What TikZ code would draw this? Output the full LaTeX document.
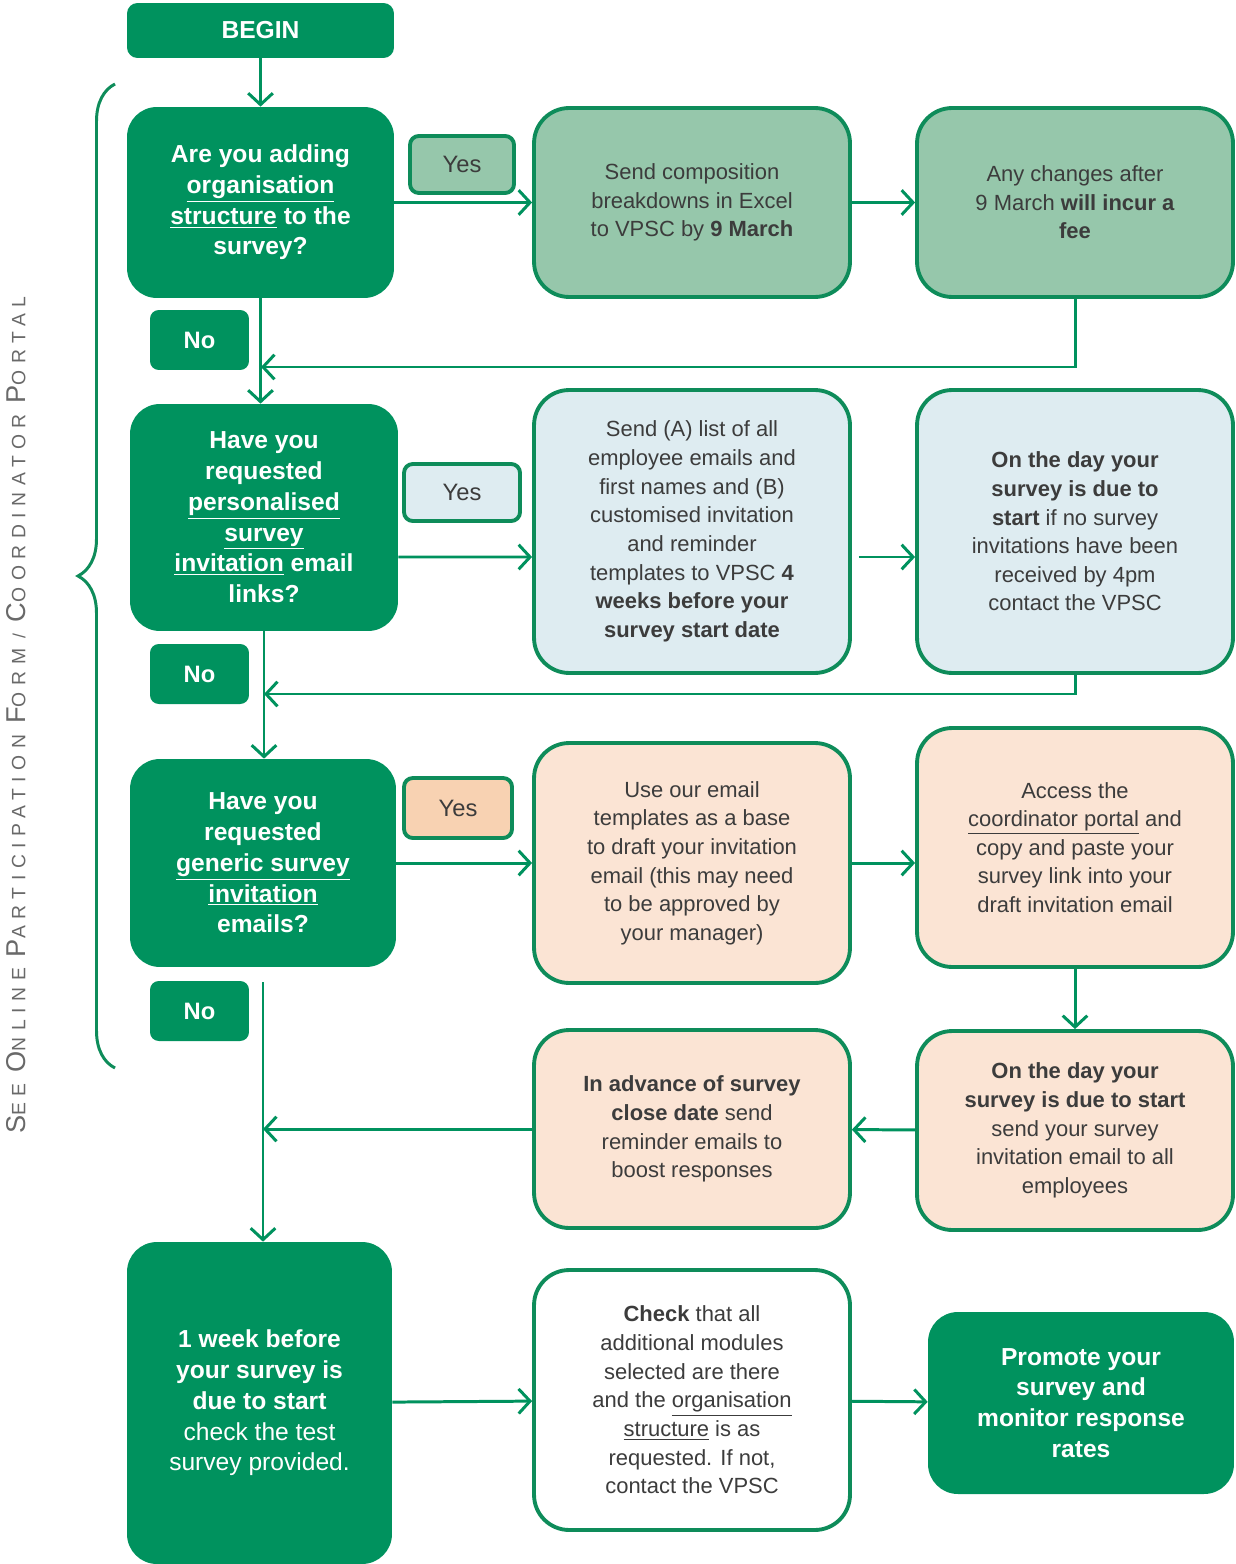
\documentclass[tikz,border=0pt]{standalone}
\usepackage{fontspec}
\setmainfont{Liberation Sans}
\newfontfamily\sidefont[LetterSpace=34]{Liberation Sans}
\usetikzlibrary{arrows.meta,decorations.pathreplacing}

\definecolor{dkgreen}{RGB}{0,146,94}
\definecolor{edgegreen}{RGB}{14,140,90}
\definecolor{mint}{RGB}{150,199,171}
\definecolor{paleblue}{RGB}{222,236,241}
\definecolor{peach}{RGB}{251,228,212}
\definecolor{yespeach}{RGB}{248,210,178}
\definecolor{txtgray}{RGB}{60,60,60}
\definecolor{sidegray}{RGB}{105,105,105}

\newcommand{\smc}[2]{{\fontsize{15.5}{16}\selectfont #1}{\fontsize{11}{12}\selectfont #2}}

\begin{document}
\begin{tikzpicture}[x=0.02cm,y=-0.02cm,
  qbox/.style={fill=dkgreen,rounded corners=17pt,text=white,align=center,inner sep=0pt,
    font=\bfseries\fontsize{14}{17.5}\selectfont},
  infobox/.style={draw=edgegreen,line width=2.2pt,rounded corners=20pt,text=txtgray,align=center,
    inner sep=0pt,minimum width=6.32cm,font=\fontsize{12.5}{16.3}\selectfont},
  yesbox/.style={draw=edgegreen,line width=2.2pt,rounded corners=5pt,text=txtgray,
    minimum height=1.14cm,font=\fontsize{13.5}{16}\selectfont},
  nobox/.style={fill=dkgreen,rounded corners=5pt,text=white,minimum width=1.98cm,
    minimum height=1.2cm,font=\bfseries\fontsize{13.5}{16}\selectfont},
  arr/.style={draw=dkgreen,line width=1.7pt,-{Straight Barb[length=6.5pt,width=14pt,line width=1.7pt]}}]

  \useasboundingbox (0,0) rectangle (1236,1564);

  % side note
  \node[rotate=90,text=sidegray,font=\sidefont] (side) at (16,715)
    {\smc{S}{EE} \smc{O}{NLINE} \smc{P}{ARTICIPATION} \smc{F}{ORM} / \smc{C}{OORDINATOR} \smc{P}{ORTAL}};
  \draw[edgegreen,line width=1.7pt,decorate,decoration={brace,amplitude=0.74cm,aspect=0.5}]
    (115,1068) -- (115,84);

  % left column
  \node[qbox,rounded corners=6pt,minimum width=5.34cm,minimum height=1.1cm] (begin) at (260.5,30.5) {BEGIN};
  \node[qbox,minimum width=5.34cm,minimum height=3.82cm] (q1) at (260.5,202.5)
    {Are you adding\\ \underline{organisation}\\ \underline{structure} to the\\ survey?};
  \node[qbox,minimum width=5.36cm,minimum height=4.54cm] (q2) at (264,517.5)
    {Have you\\ requested\\ \underline{personalised}\\ \underline{survey}\\ \underline{invitation} email\\ links?};
  \node[qbox,minimum width=5.32cm,minimum height=4.16cm] (q3) at (263,863)
    {Have you\\ requested\\ \underline{generic survey}\\ \underline{invitation}\\ emails?};
  \node[qbox,minimum width=5.3cm,minimum height=6.44cm] (q4) at (259.5,1403)
    {1 week before\\ your survey is\\ due to start\\ \mdseries check the test\\ \mdseries survey provided.};

  \node[nobox] (no1) at (199.5,340) {No};
  \node[nobox] (no2) at (199.5,674) {No};
  \node[nobox] (no3) at (199.5,1011) {No};

  \node[yesbox,fill=mint,minimum width=2.08cm] (yes1) at (462,164.5) {Yes};
  \node[yesbox,fill=paleblue,minimum width=2.32cm] (yes2) at (462,492.5) {Yes};
  \node[yesbox,fill=yespeach,minimum width=2.16cm,minimum height=1.2cm] (yes3) at (458,808) {Yes};

  % step boxes
  \node[infobox,fill=mint,minimum height=3.78cm] (b1a) at (692,202.5)
    {Send composition\\ breakdowns in Excel\\ to VPSC by \textbf{9 March}};
  \node[infobox,fill=mint,minimum height=3.78cm] (b1b) at (1075,202.5)
    {Any changes after\\ 9 March \textbf{will incur a}\\ \textbf{fee}};
  \node[infobox,fill=paleblue,minimum height=5.66cm] (b2a) at (692,531.5)
    {Send (A) list of all\\ employee emails and\\ first names and (B)\\ customised invitation\\ and reminder\\
     templates to VPSC \textbf{4}\\ \textbf{weeks before your}\\ \textbf{survey start date}};
  \node[infobox,fill=paleblue,minimum height=5.66cm] (b2b) at (1075,531.5)
    {\textbf{On the day your}\\ \textbf{survey is due to}\\ \textbf{start} if no survey\\ invitations have been\\
     received by 4pm\\ contact the VPSC};
  \node[infobox,fill=peach,minimum height=4.8cm] (b3a) at (692,863)
    {Use our email\\ templates as a base\\ to draft your invitation\\ email (this may need\\ to be approved by\\ your manager)};
  \node[infobox,fill=peach,minimum height=4.78cm] (b3b) at (1075,847.5)
    {Access the\\ \underline{coordinator portal} and\\ copy and paste your\\ survey link into your\\ draft invitation email};
  \node[infobox,fill=peach,minimum height=3.98cm] (b4b) at (1075,1130.5)
    {\textbf{On the day your}\\ \textbf{survey is due to start}\\ send your survey\\ invitation email to all\\ employees};
  \node[infobox,fill=peach,minimum height=3.96cm] (b4a) at (692,1129)
    {\textbf{In advance of survey}\\ \textbf{close date} send\\ reminder emails to\\ boost responses};
  \node[infobox,fill=white,minimum height=5.2cm] (b5a) at (692,1400)
    {\textbf{Check} that all\\ additional modules\\ selected are there\\ and the \underline{organisation}\\
     \underline{structure} is as\\ requested. If not,\\ contact the VPSC};
  \node[qbox,minimum width=6.12cm,minimum height=3.64cm] (b5b) at (1081,1403)
    {Promote your\\ survey and\\ monitor response\\ rates};

  \coordinate (m1) at (261,367);
  \coordinate (m2) at (264,694);
  \coordinate (m3) at (263,1129);

  % connectors
  \draw[arr] (begin) -- (q1);
  \draw[arr] (q1) -- (b1a);
  \draw[arr] (b1a) -- (b1b);
  \draw[arr] (b1b.south) |- (m1);
  \draw[arr] (q1.south) -- (q1.south |- q2.north);
  \draw[arr] ([yshift=-0.79cm]q2.east) -- ([yshift=-0.51cm]b2a.west);
  \draw[arr] ([yshift=-0.51cm,xshift=0.14cm]b2a.east) -- ([yshift=-0.51cm]b2b.west);
  \draw[arr] (b2b.south) |- (m2);
  \draw[arr] (q2.south) -- (q2.south |- q3.north);
  \draw[arr] (q3) -- (b3a);
  \draw[arr] (b3a.east |- b3a) -- (b3b.west |- b3a);
  \draw[arr] (b3b) -- (b4b);
  \draw[arr] (b4b) -- (b4a);
  \draw[arr] (b4a) -- (m3);
  \draw[arr] ([yshift=-0.3cm]q3.south) -- (q3.south |- q4.north);
  \draw[arr] (q4) -- (b5a);
  \draw[arr] (b5a) -- (b5b);
\end{tikzpicture}
\end{document}
